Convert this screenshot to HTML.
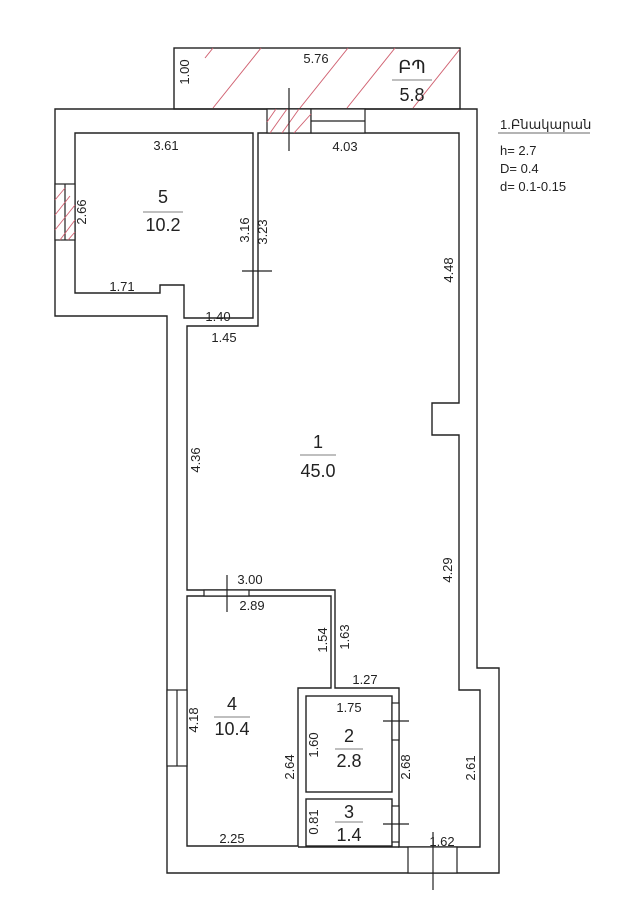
<!DOCTYPE html>
<html><head><meta charset="utf-8"><style>
html,body{margin:0;padding:0;background:#fff;}
svg{display:block}
text{font-family:"Liberation Sans","DejaVu Sans",sans-serif;fill:#222;}
.d{font-size:13px;}
.r{font-size:18px;}
</style></head><body>
<svg width="641" height="905" viewBox="0 0 641 905" xmlns="http://www.w3.org/2000/svg">
<g fill="none" stroke="#222" stroke-width="1.4">
<rect x="174" y="48" width="286" height="61"/>
</g>
<g stroke="#d06070" stroke-width="1" fill="none">
<line x1="213" y1="108" x2="261" y2="48"/>
<line x1="300" y1="108" x2="348" y2="48"/>
<line x1="347" y1="108" x2="395" y2="48"/>
<line x1="413" y1="108" x2="460" y2="49"/>
<line x1="205" y1="58" x2="213" y2="48"/>
</g>
<g fill="none" stroke="#222" stroke-width="1.4">
<polygon points="55,109 477,109 477,668 499,668 499,873 167,873 167,316 55,316"/>
<polygon points="75,133 253,133 253,318 184,318 184,285 160,285 160,293 75,293"/>
<polygon points="258,133 459,133 459,403 432,403 432,435 459,435 459,690 480,690 480,847 399,847 399,688 335,688 335,590 187,590 187,326 258,326"/>
<polygon points="187,596 331,596 331,688 298,688 298,846 187,846"/>
<rect x="306" y="696" width="86" height="96"/>
<rect x="306" y="799" width="86" height="47"/>
<line x1="298" y1="847" x2="399" y2="847"/>
</g>
<g fill="#fff" stroke="#222" stroke-width="1.2">
<rect x="267" y="109" width="44" height="24"/>
<rect x="311" y="109" width="54" height="24"/>
<line x1="311" y1="121" x2="365" y2="121"/>
<rect x="55" y="184" width="20" height="56"/>
<line x1="65" y1="184" x2="65" y2="240"/>
<rect x="167" y="690" width="20" height="76"/>
<line x1="177" y1="690" x2="177" y2="766"/>
<rect x="408" y="847" width="49" height="26"/>
<rect x="204" y="590" width="45" height="6"/>
<rect x="392" y="703" width="7" height="37"/>
<rect x="392" y="806" width="7" height="36"/>
</g>
<g stroke="#d06070" stroke-width="0.9">
<line x1="270" y1="133" x2="287" y2="109"/><line x1="282" y1="133" x2="299" y2="109"/><line x1="294" y1="133" x2="311" y2="114"/><line x1="267" y1="122" x2="276" y2="109"/>
<line x1="55" y1="200" x2="65" y2="188"/><line x1="55" y1="215" x2="70" y2="196"/><line x1="55" y1="230" x2="75" y2="205"/><line x1="60" y1="240" x2="75" y2="220"/><line x1="68" y1="240" x2="75" y2="232"/>
</g>
<g stroke="#222" stroke-width="1.2">
<line x1="289" y1="88" x2="289" y2="151"/>
<line x1="242" y1="271" x2="272" y2="271"/>
<line x1="227" y1="575" x2="227" y2="612"/>
<line x1="383" y1="721" x2="409" y2="721"/>
<line x1="383" y1="824" x2="409" y2="824"/>
<line x1="433" y1="832" x2="433" y2="890"/>
<line x1="498" y1="133" x2="590" y2="133" stroke="#888"/>
</g>
<g stroke="#555" stroke-width="0.8">
<line x1="392" y1="80" x2="432" y2="80"/>
<line x1="143" y1="212" x2="183" y2="212"/>
<line x1="300" y1="455" x2="336" y2="455"/>
<line x1="214" y1="717" x2="250" y2="717"/>
<line x1="335" y1="749" x2="363" y2="749"/>
<line x1="335" y1="822" x2="363" y2="822"/>
</g>
<text class="d" x="316" y="63" text-anchor="middle">5.76</text>
<text class="r" x="412" y="73" text-anchor="middle" font-family="DejaVu Sans">ԲՊ</text>
<text class="r" x="412" y="101" text-anchor="middle">5.8</text>
<text class="d" x="500" y="129">1.Բնակարան</text>
<text class="d" x="500" y="155">h= 2.7</text>
<text class="d" x="500" y="173">D= 0.4</text>
<text class="d" x="500" y="191">d= 0.1-0.15</text>
<text class="d" x="166" y="150" text-anchor="middle">3.61</text>
<text class="d" x="345" y="151" text-anchor="middle">4.03</text>
<text class="r" x="163" y="203" text-anchor="middle">5</text>
<text class="r" x="163" y="231" text-anchor="middle">10.2</text>
<text class="d" x="122" y="291" text-anchor="middle">1.71</text>
<text class="d" x="218" y="321" text-anchor="middle">1.40</text>
<text class="d" x="224" y="342" text-anchor="middle">1.45</text>
<text class="r" x="318" y="448" text-anchor="middle">1</text>
<text class="r" x="318" y="477" text-anchor="middle">45.0</text>
<text class="d" x="250" y="584" text-anchor="middle">3.00</text>
<text class="d" x="252" y="610" text-anchor="middle">2.89</text>
<text class="d" x="365" y="684" text-anchor="middle">1.27</text>
<text class="d" x="349" y="712" text-anchor="middle">1.75</text>
<text class="r" x="232" y="710" text-anchor="middle">4</text>
<text class="r" x="232" y="735" text-anchor="middle">10.4</text>
<text class="r" x="349" y="742" text-anchor="middle">2</text>
<text class="r" x="349" y="767" text-anchor="middle">2.8</text>
<text class="r" x="349" y="818" text-anchor="middle">3</text>
<text class="r" x="349" y="841" text-anchor="middle">1.4</text>
<text class="d" x="232" y="843" text-anchor="middle">2.25</text>
<text class="d" x="442" y="846" text-anchor="middle">1.62</text>
<text class="d" transform="translate(189,72) rotate(-90)" text-anchor="middle">1.00</text>
<text class="d" transform="translate(86,212) rotate(-90)" text-anchor="middle">2.66</text>
<text class="d" transform="translate(249,230) rotate(-90)" text-anchor="middle">3.16</text>
<text class="d" transform="translate(267,232) rotate(-90)" text-anchor="middle">3.23</text>
<text class="d" transform="translate(453,270) rotate(-90)" text-anchor="middle">4.48</text>
<text class="d" transform="translate(200,460) rotate(-90)" text-anchor="middle">4.36</text>
<text class="d" transform="translate(452,570) rotate(-90)" text-anchor="middle">4.29</text>
<text class="d" transform="translate(327,640) rotate(-90)" text-anchor="middle">1.54</text>
<text class="d" transform="translate(349,637) rotate(-90)" text-anchor="middle">1.63</text>
<text class="d" transform="translate(198,720) rotate(-90)" text-anchor="middle">4.18</text>
<text class="d" transform="translate(318,745) rotate(-90)" text-anchor="middle">1.60</text>
<text class="d" transform="translate(294,767) rotate(-90)" text-anchor="middle">2.64</text>
<text class="d" transform="translate(410,767) rotate(-90)" text-anchor="middle">2.68</text>
<text class="d" transform="translate(475,768) rotate(-90)" text-anchor="middle">2.61</text>
<text class="d" transform="translate(318,822) rotate(-90)" text-anchor="middle">0.81</text>
</svg>
</body></html>
